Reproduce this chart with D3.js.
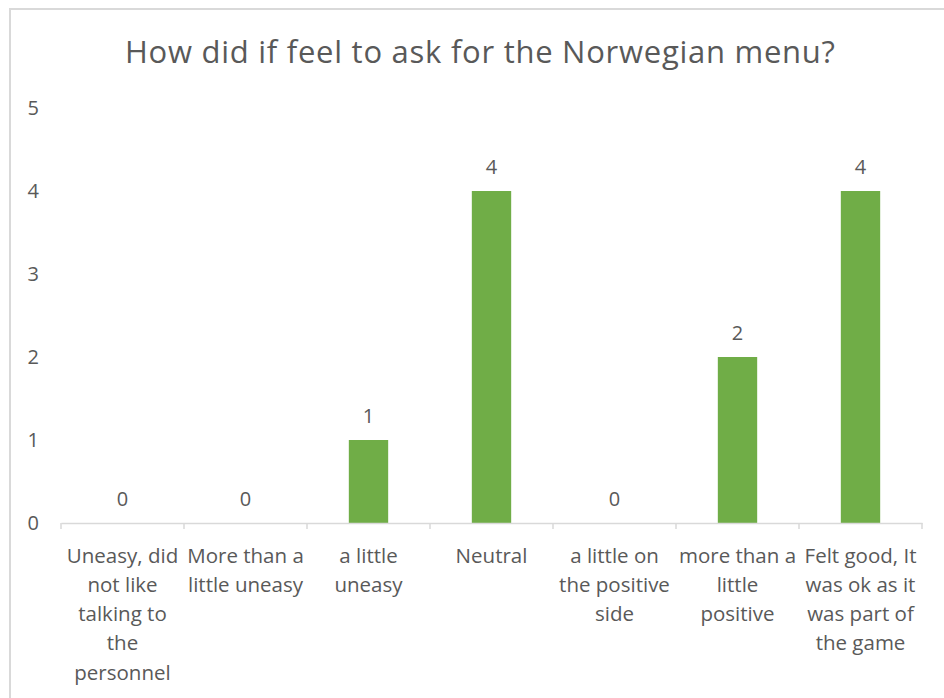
<!DOCTYPE html>
<html>
<head>
<meta charset="utf-8">
<script src="https://cdn.jsdelivr.net/npm/d3@7"></script>
<style>
  html, body { margin: 0; padding: 0; background: #fff; }
  svg { display: block; }
  text { font-family: "Open Sans", Lato, sans-serif; fill: #595959; }
</style>
</head>
<body>
<svg id="chart" width="944" height="698"></svg>
<script>
// Survey answers and counts
const categories = [
  "Uneasy, did not like talking to the personnel",
  "More than a little uneasy",
  "a little uneasy",
  "Neutral",
  "a little on the positive side",
  "more than a little positive",
  "Felt good, It was ok as it was part of the game"
];
const counts = [0, 0, 1, 4, 0, 2, 4];
// Wrapped category labels, one array of lines per category
const labelLines = [
  ["Uneasy, did", "not like", "talking to", "the", "personnel"],
  ["More than a", "little uneasy"],
  ["a little", "uneasy"],
  ["Neutral"],
  ["a little on", "the positive", "side"],
  ["more than a", "little", "positive"],
  ["Felt good, It", "was ok as it", "was part of", "the game"]
];
const yTicks = [0, 1, 2, 3, 4, 5];
const titleText = "How did if feel to ask for the Norwegian menu?";

const svg = d3.select("#chart");
const W = 944, H = 698;
const plot = { left: 61, right: 922, top: 108, bottom: 523 };
const FONT = "'Open Sans', Lato, sans-serif";

// Outer frame of the chart area
svg.append("rect")
  .attr("x", 10).attr("y", 9)
  .attr("width", W + 20).attr("height", H + 20)
  .attr("fill", "none").attr("stroke", "#d9d9d9").attr("stroke-width", 2);

// Title
svg.append("text")
  .attr("x", 125).attr("y", 62.5)
  .attr("font-size", 31)
  .attr("textLength", 710)
  .attr("lengthAdjust", "spacing")
  .text(titleText);

const x = d3.scaleBand().domain(categories).range([plot.left, plot.right]).padding(0);
const xBar = d3.scaleBand().domain(categories).range([plot.left, plot.right])
  .paddingInner(0.68).paddingOuter(0.34);
const y = d3.scaleLinear().domain([0, 5]).range([plot.bottom, plot.top]);

// Y axis labels (no axis line)
const yAxis = svg.append("g")
  .attr("transform", `translate(${plot.left},0)`)
  .call(d3.axisLeft(y).tickValues(yTicks).tickSize(0).tickPadding(22).tickFormat(d3.format("d")));
yAxis.select(".domain").remove();
yAxis.selectAll("text").attr("font-size", 20).attr("fill", "#595959")
  .style("font-family", FONT);

// Bars
svg.append("g").selectAll("rect")
  .data(counts)
  .join("rect")
  .attr("x", (d, i) => xBar(categories[i]))
  .attr("width", xBar.bandwidth())
  .attr("y", d => y(d))
  .attr("height", d => y(0) - y(d))
  .attr("fill", "#70ad47");

// Value labels
svg.append("g").selectAll("text")
  .data(counts)
  .join("text")
  .attr("x", (d, i) => x(categories[i]) + x.bandwidth() / 2)
  .attr("y", d => y(d) - 17)
  .attr("text-anchor", "middle")
  .attr("font-size", 20)
  .text(d => d);

// X axis line with tick marks at category boundaries
const xAxis = svg.append("g")
  .attr("transform", `translate(0,${plot.bottom})`)
  .call(d3.axisBottom(x).tickSize(0).tickSizeOuter(0).tickFormat(""));
xAxis.select(".domain").attr("stroke", "#d9d9d9").attr("stroke-width", 1.5);
xAxis.selectAll(".tick").remove();
const bounds = categories.map(c => x(c)).concat([plot.right]);
xAxis.selectAll("line.bound")
  .data(bounds)
  .join("line")
  .attr("class", "bound")
  .attr("x1", d => d).attr("x2", d => d)
  .attr("y1", 0).attr("y2", 6)
  .attr("stroke", "#d9d9d9").attr("stroke-width", 1.5);

// Wrapped category labels
const lab = svg.append("g").selectAll("text")
  .data(labelLines)
  .join("text")
  .attr("text-anchor", "middle")
  .attr("font-size", 20.5)
  .attr("transform", (d, i) => `translate(${x(categories[i]) + x.bandwidth() / 2},562.5)`);
lab.selectAll("tspan")
  .data(d => d)
  .join("tspan")
  .attr("x", 0)
  .attr("y", (d, j) => j * 29.3)
  .text(d => d);
</script>
</body>
</html>
